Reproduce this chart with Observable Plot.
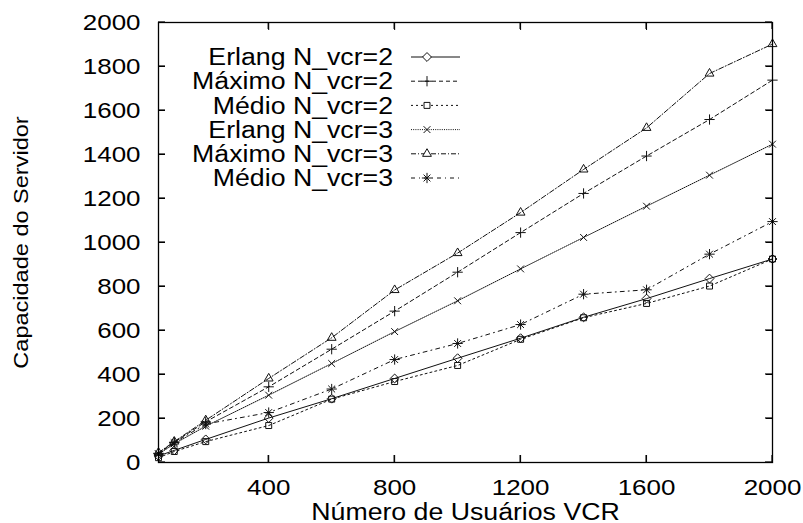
<!DOCTYPE html>
<html><head><meta charset="utf-8">
<script src="https://cdn.jsdelivr.net/npm/d3@7"></script>
<script src="https://cdn.jsdelivr.net/npm/@observablehq/plot@0.6"></script>
<style>
body{margin:0;background:#fff;}
#chart{width:803px;height:523px;}
</style></head><body><div id="chart"></div>
<script>
// ---- data ----
const usuarios = [50, 100, 200, 400, 600, 800, 1000, 1200, 1400, 1600, 1800, 2000];
const erlang2  = [30, 55, 105, 202, 290, 382, 474, 565, 660, 745, 836, 925];
const maximo2  = [42, 92, 185, 344, 515, 688, 865, 1045, 1223, 1393, 1559, 1738];
const medio2   = [22, 50, 95, 168, 288, 368, 441, 560, 658, 723, 802, 925];
const erlang3  = [38, 85, 165, 306, 450, 595, 735, 880, 1023, 1165, 1306, 1447];
const maximo3  = [45, 95, 192, 382, 567, 784, 952, 1136, 1332, 1521, 1768, 1902];
const medio3   = [40, 90, 175, 227, 334, 468, 541, 627, 765, 785, 947, 1095];
const seriesNames = ["Erlang N_vcr=2", "Máximo N_vcr=2", "Médio N_vcr=2",
                     "Erlang N_vcr=3", "Máximo N_vcr=3", "Médio N_vcr=3"];
const xTicks = [400, 800, 1200, 1600, 2000];
const yTicks = [0, 200, 400, 600, 800, 1000, 1200, 1400, 1600, 1800, 2000];
const xDomain = [50, 2000];
const yDomain = [0, 2000];
const xTitle = "Número de Usuários VCR";
const yTitle = "Capacidade do Servidor";

// ---- styles ----
const seriesValues = [erlang2, maximo2, medio2, erlang3, maximo3, medio3];
const styles = [
  {symbols: ["diamond2"], dash: null},
  {symbols: ["plus"], dash: "4,3"},
  {symbols: ["square2"], dash: "2,3"},
  {symbols: ["times"], dash: "1,1.2"},
  {symbols: ["triangle2"], dash: "5,2,1,2"},
  {symbols: ["plus", "times"], dash: "4,4,1,4"}
];
const symbolR = {diamond2: 4.0, plus: 3.4, square2: 3.8, times: 3.2, triangle2: 4.2};

const series = seriesNames.map((name, i) => ({
  name,
  rows: usuarios.map((x, j) => ({x, y: seriesValues[i][j]})),
  ...styles[i]
}));

const ink = "#111";
const font = "Liberation Sans, Arial, sans-serif";
const marks = [];
for (const s of series) {
  marks.push(Plot.line(s.rows, {x: "x", y: "y", stroke: ink, strokeWidth: 1, strokeDasharray: s.dash}));
  for (const sym of s.symbols) {
    marks.push(Plot.dot(s.rows, {x: "x", y: "y", symbol: sym, r: symbolR[sym], stroke: ink, fill: "none", strokeWidth: 1}));
  }
}
const fmt = d => String(d);
const noText = () => "";

const chart = Plot.plot({
  width: 803,
  height: 523,
  marginLeft: 158,
  marginRight: 31,
  marginTop: 22,
  marginBottom: 61,
  style: {fontFamily: font, fontSize: "22px"},
  x: {domain: xDomain},
  y: {domain: yDomain},
  marks: [
    ...marks,
    // inward ticks (outward ticks shifted inside by their own length)
    Plot.axisX({anchor: "bottom", ticks: xTicks, tickSize: 7, dy: -7, tickFormat: noText, label: null, stroke: "#000"}),
    Plot.axisX({anchor: "top", ticks: xTicks, tickSize: 7, dy: 7, tickFormat: noText, label: null, stroke: "#000"}),
    Plot.axisY({anchor: "left", ticks: yTicks, tickSize: 7, dx: 7, tickFormat: noText, label: null, stroke: "#000"}),
    Plot.axisY({anchor: "right", ticks: yTicks, tickSize: 7, dx: -7, tickFormat: noText, label: null, stroke: "#000"}),
    // tick labels and titles
    Plot.axisX({anchor: "bottom", ticks: xTicks, tickSize: 0, tickPadding: 17, tickFormat: fmt, fontSize: 22,
      label: xTitle, labelAnchor: "center", labelOffset: 57, labelArrow: "none"}),
    Plot.axisY({anchor: "left", ticks: yTicks, tickSize: 0, tickPadding: 18, tickFormat: fmt, fontSize: 22,
      label: yTitle, labelAnchor: "center", labelOffset: 145, labelArrow: "none"}),
    Plot.frame({stroke: "#000", strokeWidth: 1.3})
  ]
});
document.getElementById("chart").appendChild(chart);

const svg = d3.select(chart);

// ---- legend (inside the frame, top-left) ----
const leg = svg.append("g").attr("class", "legend");
const symMap = {diamond2: d3.symbolDiamond2, plus: d3.symbolPlus, square2: d3.symbolSquare2,
                times: d3.symbolTimes, triangle2: d3.symbolTriangle2};
series.forEach((s, i) => {
  const cy = 57 + i * 24.2;
  leg.append("text").attr("x", 393).attr("y", cy).attr("dy", "0.36em")
    .attr("text-anchor", "end").attr("font-size", 23).attr("fill", "#000")
    .attr("font-family", font).attr("class", "stretch-l").text(s.name);
  leg.append("line").attr("x1", 411).attr("x2", 460).attr("y1", cy).attr("y2", cy)
    .attr("stroke", ink).attr("stroke-width", 1).attr("stroke-dasharray", s.dash);
  for (const sym of s.symbols) {
    leg.append("path").attr("transform", `translate(427,${cy})`)
      .attr("d", d3.symbol(symMap[sym], Math.PI * symbolR[sym] ** 2)())
      .attr("fill", "#fff").attr("stroke", ink).attr("stroke-width", 1);
  }
});

// axis titles: sizes like the reference
svg.selectAll('g[aria-label="x-axis label"] text').attr("font-size", 23).classed("stretch-l", true);
svg.selectAll('g[aria-label="y-axis label"] text').attr("font-size", 21).classed("stretch-m", true);

// ---- widen glyphs like the original (stretched Helvetica) ----
svg.selectAll("text").each(function() {
  const t = this;
  if (!t.textContent) return;
  const len = t.getComputedTextLength();
  if (!len) return;
  const k = t.classList.contains("stretch-l") ? 1.16 : t.classList.contains("stretch-m") ? 1.12 : 1.18;
  t.setAttribute("textLength", len * k);
  t.setAttribute("lengthAdjust", "spacingAndGlyphs");
});

// ---- extra inward tick segments placed with Plot's own scales (drawn last) ----
const sx = chart.scale("x"), sy = chart.scale("y");
const [px0, px1] = sx.range, [py0, py1] = sy.range;
const tg = svg.append("g").attr("class", "inner-ticks");
const seg = (a, b, c, d) => tg.append("path").attr("d", `M${a},${b}L${c},${d}`)
  .attr("stroke", "#000").attr("stroke-width", 1.2).attr("fill", "none");
for (const t of xTicks) {
  const p = sx.apply(t);
  seg(p, py0, p, py0 - 7);
  seg(p, py1, p, py1 + 7);
}
for (const t of yTicks) {
  const p = sy.apply(t);
  seg(px0, p, px0 + 7, p);
  seg(px1, p, px1 - 7, p);
}
</script></body></html>
